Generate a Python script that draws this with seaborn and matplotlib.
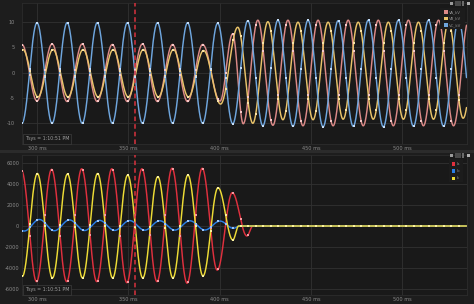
import numpy as np
import pandas as pd
import matplotlib
matplotlib.use("Agg")
import matplotlib.pyplot as plt
import seaborn as sns
from matplotlib.patches import Rectangle

# ---------------- data ----------------
# time window shown (ms)
T_START, T_END = 291.78, 535.34
CURSOR_MS = 353.7
X_TICKS = [300, 350, 400, 450, 500]
X_TICK_LABELS = ["300 ms", "350 ms", "400 ms", "450 ms", "500 ms"]
V_TICKS = [10, 5, 0, -5, -10]
I_TICKS = [6000, 4000, 2000, 0, -2000, -4000, -6000]

# Voltage extrema (time ms, value kV) per phase
va_t = [291.75, 300, 308.25, 316.5, 324.75, 333, 341.25, 349.5, 357.75, 366, 374.25,
        382.5, 390.75, 400.3, 407.2, 413, 421, 429.25, 437.5, 445.75, 454, 462.25,
        470.5, 478.75, 487, 495.25, 503.5, 511.75, 520, 528.25, 536.5]
va_v = [5.6, -5.6, 5.7, -5.7, 5.7, -5.7, 5.6, -5.7, 5.7, -5.7, 5.6,
        -5.7, 5.6, -5.6, 7.7, -10.1, 10.4, -10.4, 10.4, -10.5, 10.4, -10.5,
        10.4, -10.5, 10.4, -10.5, 10.4, -10.5, 10.4, -10.5, 10.4]

vb_t = [284.0, 292.25, 300.5, 308.75, 317, 325.25, 333.5, 341.75, 350, 358.25, 366.5,
        374.75, 383, 391.25, 400.6, 410, 418.25, 426.5, 434.75, 443, 451.25, 459.5,
        467.75, 476, 484.25, 492.5, 500.75, 509, 517.25, 525.5, 533.5, 542]
vb_v = [-4.8, 4.6, -4.8, 4.6, -4.8, 4.6, -4.8, 4.6, -4.8, 4.6, -4.8,
        4.6, -4.8, 4.4, -6.2, 9.0, -10.0, 10.1, -9.3, 10.0, -9.3, 10.0,
        -9.2, 10.0, -9.2, 10.0, -9.2, 10.0, -9.2, 10.0, -9.0, 10.0]

vc_t = [291.75, 300, 308.25, 316.5, 324.75, 333, 341.25, 349.5, 357.75, 366, 374.25,
        382.5, 390.75, 399, 407.25, 415.5, 423.75, 432, 440.25, 448.5, 456.75, 465,
        473.25, 481.5, 489.75, 498, 506.25, 514.5, 522.75, 531, 539.25]
vc_v = [-10.0, 9.9, -10.0, 9.9, -10.0, 9.9, -10.0, 9.9, -10.0, 9.9, -10.0,
        9.9, -10.0, 9.8, -10.1, 10.3, -10.5, 10.4, -10.6, 10.4, -10.7, 10.3,
        -10.6, 10.4, -10.7, 10.4, -10.6, 10.4, -10.6, 10.4, -10.6]

# Current extrema (time ms, value A) per phase
ia_t = [283.25, 291.5, 299.75, 308, 316.25, 324.5, 332.75, 341, 349.25, 357.5, 365.75,
        374, 382.25, 390.5, 398.75, 407, 415, 418.3, 540]
ia_v = [-5200, 5300, -5300, 5400, -5300, 5450, -5300, 5450, -5400, 5450, -5300,
        5500, -5450, 5500, -4200, 3170, -950, 0, 0]

ib_t = [284.8, 293, 301.3, 309.5, 317.8, 326, 334.3, 342.5, 350.8, 359, 367.3,
        375.5, 383.8, 392, 400.3, 407.6, 411, 540]
ib_v = [560, -480, 620, -450, 580, -430, 540, -420, 520, -400, 500,
        -390, 500, -380, 470, -220, 0, 0]

ic_t = [283.75, 291.95, 300.2, 308.45, 316.7, 324.95, 333.2, 341.45, 349.7, 357.95,
        366.2, 374.45, 382.7, 390.95, 399.2, 407.3, 410.5, 540]
ic_v = [5000, -4800, 5000, -4950, 4950, -4950, 5000, -4950, 4850, -4950,
        4700, -4950, 4860, -4760, 3650, -1330, 0, 0]

V_NAMES = ["VA_kV", "VB_kV", "VC_kV"]
I_NAMES = ["Ia", "Ib", "Ic"]
TSYS_TEXT = "Tsys = 1:10:51 PM"

# ---------------- style ----------------
BG = "#1d1d1d"
AX_BG = "#191919"
GRID = "#313131"
TXT = "#8c8c8c"
V_COLORS = {"VA_kV": "#dc8a88", "VB_kV": "#eac46a", "VC_kV": "#6fa6de"}
V_MARK = {"VA_kV": "#f4c8c8", "VB_kV": "#f8e2a8", "VC_kV": "#c4dcf6"}
I_COLORS = {"Ia": "#e0303e", "Ib": "#2a7fe6", "Ic": "#eedc36"}
I_MARK = {"Ia": "#f49aa0", "Ib": "#9cc4f6", "Ic": "#faf0a0"}

sns.set_theme(style="dark")
plt.rcParams.update({
    "font.family": ["DejaVu Sans"],
    "axes.unicode_minus": False,
    "figure.facecolor": BG,
    "axes.facecolor": AX_BG,
})

W, H = 474, 304
fig = plt.figure(figsize=(W / 100, H / 100), dpi=100, facecolor=BG)


def px_axes(l, t, r, b):
    return fig.add_axes([l / W, 1 - b / H, (r - l) / W, (b - t) / H])


def through_extrema(tk, vk, t):
    tk = np.asarray(tk, float)
    vk = np.asarray(vk, float)
    i = np.clip(np.searchsorted(tk, t, side="right") - 1, 0, len(tk) - 2)
    t0, t1, v0, v1 = tk[i], tk[i + 1], vk[i], vk[i + 1]
    f = (t - t0) / (t1 - t0)
    return (v0 + v1) / 2 + (v0 - v1) / 2 * np.cos(np.pi * f)


t_line = np.linspace(T_START, T_END, 2400)
t_mark = np.arange(T_START + 0.2, T_END, 4.125)


def build(names, series):
    lines, marks = [], []
    for n, (tk, vk) in zip(names, series):
        lines.append(pd.DataFrame({"t": t_line, "v": through_extrema(tk, vk, t_line), "s": n}))
        marks.append(pd.DataFrame({"t": t_mark, "v": through_extrema(tk, vk, t_mark), "s": n}))
    return pd.concat(lines, ignore_index=True), pd.concat(marks, ignore_index=True)


v_lines, v_marks = build(V_NAMES, [(va_t, va_v), (vb_t, vb_v), (vc_t, vc_v)])
i_lines, i_marks = build(I_NAMES, [(ia_t, ia_v), (ib_t, ib_v), (ic_t, ic_v)])

ax1 = px_axes(22, 3, 466.5, 144)
ax2 = px_axes(22, 155, 466.5, 295)

for ax, lines, marks, names, cols, mcols in [
        (ax1, v_lines, v_marks, V_NAMES, V_COLORS, V_MARK),
        (ax2, i_lines, i_marks, I_NAMES, I_COLORS, I_MARK)]:
    ax.set_facecolor(AX_BG)
    for n in names:
        sns.lineplot(data=lines[lines.s == n], x="t", y="v", color=cols[n],
                     estimator=None, sort=False, lw=1.05, ax=ax, legend=False)
        sns.scatterplot(data=marks[marks.s == n], x="t", y="v", color=mcols[n],
                        marker="s", s=3.5, linewidth=0, ax=ax, legend=False, zorder=5)
    ax.axvline(CURSOR_MS, color="#d8323e", ls=(0, (3, 2)), lw=1.1, zorder=6)
    ax.set_xlim(T_START, T_END)
    ax.set_xticks(X_TICKS)
    ax.set_xticklabels(X_TICK_LABELS)
    ax.set_xlabel("")
    ax.set_ylabel("")
    ax.grid(True, color=GRID, lw=0.6)
    ax.tick_params(axis="both", length=0, labelsize=3.6, colors=TXT)
    ax.tick_params(axis="x", pad=1.2)
    for sp in ax.spines.values():
        sp.set_color("#2c2c2c")
        sp.set_linewidth(0.6)
    ax.text(0.008, 0.018, TSYS_TEXT, transform=ax.transAxes, fontsize=3.4, color="#a0a0a0",
            ha="left", va="bottom", zorder=8,
            bbox=dict(boxstyle="square,pad=0.5", fc="#1a1a1a", ec="#3c3c3c", lw=0.5))

ax1.set_ylim(-14.1, 13.8)
ax1.set_yticks(V_TICKS)
ax1.set_yticklabels([str(v) for v in V_TICKS])
ax1.tick_params(axis="y", pad=5.2)

ax2.set_ylim(-6571, 6762)
ax2.set_yticks(I_TICKS)
ax2.set_yticklabels([str(v) for v in I_TICKS])
ax2.tick_params(axis="y", pad=2.0)

# separator band between the two panels
fig.patches.append(Rectangle((0, 1 - 153 / H), 1, 3 / H, transform=fig.transFigure,
                             fc="#2b2b2b", ec="none", zorder=0))


def px_rect(x, y, w, h, color, z=10):
    fig.patches.append(Rectangle((x / W, 1 - (y + h) / H), w / W, h / H,
                                 transform=fig.transFigure, fc=color, ec="none", zorder=z))


# legends
px_rect(440, 8, 25, 21, "#1c1c1c", z=9)
for k, n in enumerate(V_NAMES):
    yc = 12 + k * 6.6
    px_rect(444, yc - 1.8, 3.6, 3.6, V_COLORS[n])
    fig.text(449 / W, 1 - yc / H, n, fontsize=2.8, color=TXT, ha="left", va="center", zorder=11)

px_rect(449, 159, 14, 23, "#1c1c1c", z=9)
for k, n in enumerate(I_NAMES):
    yc = 164 + k * 7.2
    px_rect(451.5, yc - 1.8, 3.6, 3.6, I_COLORS[n])
    fig.text(457 / W, 1 - yc / H, n, fontsize=2.8, color=TXT, ha="left", va="center", zorder=11)

# tiny toolbar glyphs
for ytb in (3.5, 155.5):
    px_rect(449.5, ytb - 1.5, 3, 3, "#9a9a9a")
    px_rect(454.5, ytb - 2.5, 6, 5, "#4a4a4a")
    px_rect(461.5, ytb - 2.5, 2.5, 5, "#6a6a6a")
    px_rect(466.5, ytb - 1.5, 3, 3, "#b0b0b0")

fig.savefig("out.png", dpi=100, facecolor=BG)
